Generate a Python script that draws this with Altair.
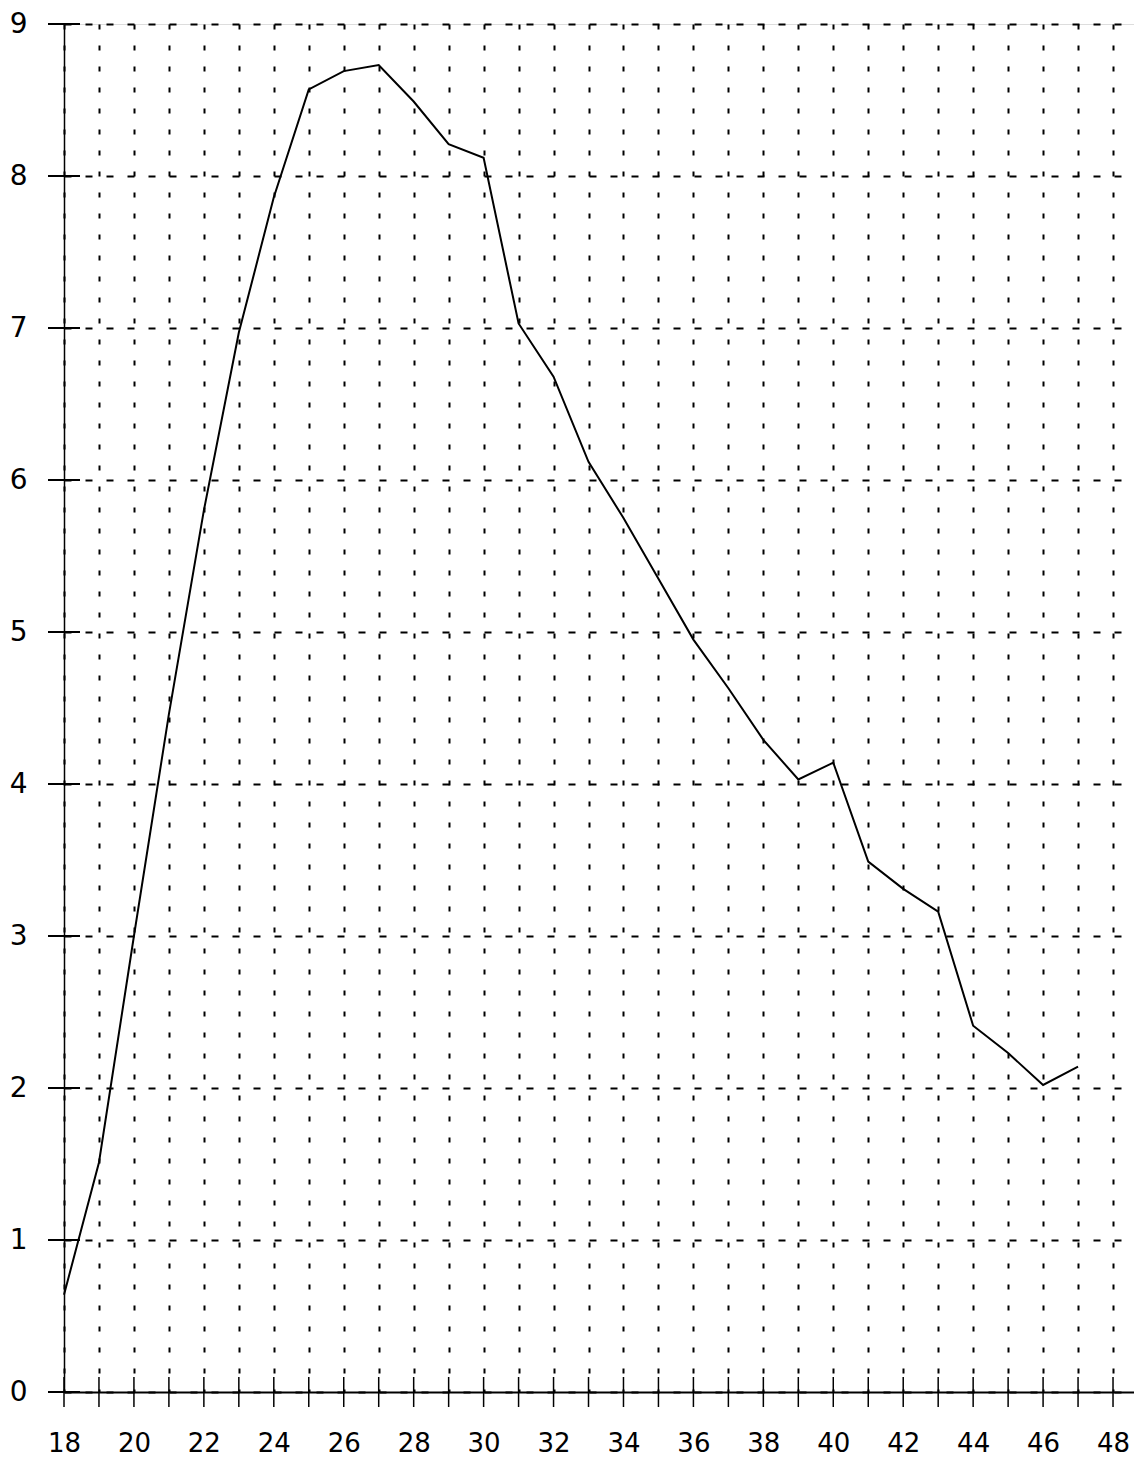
import altair as alt
import pandas as pd

ages = list(range(18, 48))
values = [0.64, 1.51, 3.0, 4.46, 5.8, 6.97, 7.86, 8.57, 8.69, 8.73,
          8.49, 8.21, 8.12, 7.03, 6.68, 6.12, 5.75, 5.35, 4.95, 4.63,
          4.29, 4.03, 4.14, 3.49, 3.31, 3.16, 2.41, 2.23, 2.02, 2.14]
x_ticks = list(range(18, 49))
y_ticks = list(range(0, 10))

df = pd.DataFrame({"age": ages, "value": values})
xt = pd.DataFrame({"x": x_ticks, "y": [0] * len(x_ticks)})
yt = pd.DataFrame({"x": [18] * len(y_ticks), "y": y_ticks})

FONT = "DejaVu Sans"

xscale = alt.Scale(domain=[18, 48.6], nice=False, zero=False)
yscale = alt.Scale(domain=[0, 9], nice=False)

xaxis = alt.Axis(values=x_ticks, title=None, grid=True, gridDash=[5, 16],
                 gridColor="black", gridWidth=2, gridOpacity=1,
                 ticks=False, tickSize=0, labelPadding=38,
                 labelExpr="datum.value % 2 == 0 ? '' + datum.value : ''",
                 labelFont=FONT, labelFontSize=26, labelColor="black",
                 domainColor="black", domainWidth=2, labelFlush=False)
yaxis = alt.Axis(values=y_ticks, title=None, grid=True, gridDash=[7, 14],
                 gridColor="black", gridWidth=2, gridOpacity=1,
                 ticks=False, tickSize=0, labelPadding=37,
                 labelExpr="'' + datum.value",
                 labelAlign="right", labelBaseline="middle",
                 labelFont=FONT, labelFontSize=28, labelColor="black",
                 domainColor="black", domainWidth=1.5, labelFlush=False)

line = alt.Chart(df).mark_line(color="black", strokeWidth=2).encode(
    x=alt.X("age:Q", scale=xscale, axis=xaxis),
    y=alt.Y("value:Q", scale=yscale, axis=yaxis),
)

xticks = alt.Chart(xt).mark_tick(color="black", orient="vertical", size=30, thickness=1.5, opacity=1).encode(
    x=alt.X("x:Q", scale=xscale, axis=None),
    y=alt.Y("y:Q", scale=yscale, axis=None),
)
yticks = alt.Chart(yt).mark_tick(color="black", orient="horizontal", size=32, thickness=2, opacity=1).encode(
    x=alt.X("x:Q", scale=xscale, axis=None),
    y=alt.Y("y:Q", scale=yscale, axis=None),
)

chart = alt.layer(line, xticks, yticks).resolve_axis(
    x="independent", y="independent"
).properties(
    width=1070, height=1368,
    autosize=alt.AutoSizeParams(type="none"),
    padding={"left": 56, "top": 16, "right": 0, "bottom": 66},
).configure_view(stroke=None).configure(background="white")

chart.save("out.html", embed_options={"renderer": "svg", "actions": False})
